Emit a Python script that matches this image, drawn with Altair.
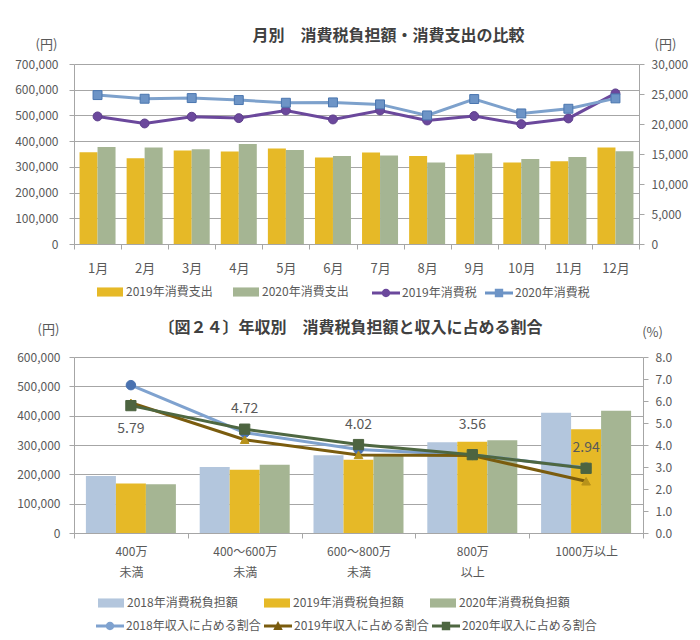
import altair as alt
import pandas as pd

FONT = "Noto Sans CJK JP"
TXT = "#595959"
GRID = "#A6A6A6"

# ---------------- data: monthly ----------------
months = ["1月", "2月", "3月", "4月", "5月", "6月", "7月", "8月", "9月", "10月", "11月", "12月"]
spend_2019 = [357000, 333000, 364000, 360000, 371000, 336000, 356000, 342000, 348000, 317000, 322000, 375000]
spend_2020 = [377000, 375000, 368000, 389000, 366000, 342000, 344000, 317000, 353000, 331000, 338000, 361000]
tax_2019 = [21260, 20090, 21210, 20980, 22260, 20760, 22260, 20590, 21320, 19980, 20930, 25100]
tax_2020 = [24820, 24210, 24320, 23990, 23540, 23600, 23270, 21430, 24160, 21760, 22540, 24270]

top_bar_series = ["2019年消費支出", "2020年消費支出"]
top_line_series = ["2019年消費税", "2020年消費税"]

# ---------------- data: by income ----------------
income_groups = ["400万\n未満", "400～600万\n未満", "600～800万\n未満", "800万\n以上", "1000万以上"]
burden_2018 = [194700, 225400, 265300, 309500, 410000]
burden_2019 = [168500, 215200, 249300, 311000, 353500]
burden_2020 = [166200, 232300, 263000, 316500, 416500]
ratio_2018 = [6.72, 4.56, 3.80, 3.55, 2.97]
ratio_2019 = [5.92, 4.24, 3.55, 3.52, 2.35]
ratio_2020 = [5.79, 4.72, 4.02, 3.56, 2.94]

bot_bar_series = ["2018年消費税負担額", "2019年消費税負担額", "2020年消費税負担額"]
bot_line_series = ["2018年収入に占める割合", "2019年収入に占める割合", "2020年収入に占める割合"]

# ---------------- styles ----------------
YELLOW = "#E6B927"
GREEN = "#A5B593"
LBLUE = "#B3C6DD"
top_bar_colors = [YELLOW, GREEN]
top_bar_shift = [-9, 9]
top_line_colors = ["#6B489C", "#7DA1CC"]
top_marker_fill = ["#6B489C", "#6D94C6"]
top_marker_stroke = ["#5E3F8C", "#4A76AF"]
top_marker_shape = ["circle", "square"]

bot_bar_colors = [LBLUE, YELLOW, GREEN]
bot_bar_shift = [-30, 0, 30]
bot_line_colors = ["#7FA2CF", "#7A5C0E", "#4E6741"]
bot_marker_fill = ["#4A72B0", "#B8921A", "#4D6440"]
bot_marker_shape = ["circle", "triangle-up", "square"]

BAR_SYM = "M-1,-0.35H1V0.35H-1Z"
LINE = "M-1,-0.11H1V0.11H-1Z "
SYM_CIRCLE = LINE + "M-0.3,0A0.3,0.3 0 1,1 0.3,0A0.3,0.3 0 1,1 -0.3,0Z"
SYM_SQUARE = LINE + "M-0.3,-0.3H0.3V0.3H-0.3Z"
SYM_TRI = LINE + "M0,-0.36L0.34,0.28H-0.34Z"

# ---------------- frames ----------------
df_top_bars = pd.DataFrame({
    "month": months * 2,
    "series": [s for s in top_bar_series for _ in months],
    "value": spend_2019 + spend_2020,
})
df_top_lines = pd.DataFrame({
    "month": months * 2,
    "series": [s for s in top_line_series for _ in months],
    "value": tax_2019 + tax_2020,
})
df_bot_bars = pd.DataFrame({
    "group": income_groups * 3,
    "series": [s for s in bot_bar_series for _ in income_groups],
    "value": burden_2018 + burden_2019 + burden_2020,
})
df_bot_lines = pd.DataFrame({
    "group": income_groups * 3,
    "series": [s for s in bot_line_series for _ in income_groups],
    "value": ratio_2018 + ratio_2019 + ratio_2020,
})


def bar_legend(x, y, pad):
    return alt.Legend(orient="none", legendX=x, legendY=y, direction="horizontal", title=None,
                      symbolType=BAR_SYM, symbolSize=676, symbolStrokeWidth=0,
                      labelFont=FONT, labelFontSize=12, labelColor=TXT, labelOffset=3,
                      columnPadding=pad)


def line_legend(x, y, pad):
    return alt.Legend(orient="none", legendX=x, legendY=y, direction="horizontal", title=None,
                      symbolSize=784, symbolStrokeWidth=0, symbolOpacity=1,
                      labelFont=FONT, labelFontSize=12, labelColor=TXT, labelOffset=2,
                      columnPadding=pad)


def y_axis(values, expr, title, tx, ty, orient, pad, grid):
    return alt.Axis(orient=orient, values=values, labelExpr=expr,
                    title=title, titleAngle=0, titleX=tx, titleY=ty,
                    titleAlign="center", titleBaseline="middle",
                    titleFont=FONT, titleFontSize=13, titleFontWeight="normal",
                    titleColor=TXT, labelFont=FONT, labelFontSize=12,
                    labelColor=TXT, labelPadding=pad, tickSize=5, tickColor=GRID,
                    domainColor=GRID, grid=grid, gridColor=GRID, gridWidth=1.2)


COMMA = "format(datum.value, ',')"
ONEDEC = "format(datum.value, '.1f')"

# ================= TOP CHART =================
W1, H1 = 565, 180
x_top = alt.X("month:N", sort=months, title=None,
              scale=alt.Scale(type="band", paddingInner=0, paddingOuter=0),
              axis=alt.Axis(tickBand="extent", labelAngle=0, labelFont=FONT, labelFontSize=13,
                            labelColor=TXT, labelPadding=13, tickSize=5, tickColor=GRID,
                            domainColor=GRID, grid=False))
y_top_left = alt.Y("value:Q", scale=alt.Scale(domain=[0, 700000], nice=False),
                   axis=y_axis(list(range(0, 700001, 100000)), COMMA, "(円)", -28, -20, "left", 11, True))
y_top_right = alt.Y("value:Q", scale=alt.Scale(domain=[0, 30000], nice=False),
                    axis=y_axis(list(range(0, 30001, 5000)), COMMA, "(円)", 26, -20, "right", 7, False))

top_color = alt.Color("series:N", sort=top_bar_series,
                      scale=alt.Scale(domain=top_bar_series, range=top_bar_colors),
                      legend=bar_legend(23, 215, 20))
top_bars = [
    alt.Chart(df_top_bars).transform_filter(alt.datum.series == s).mark_bar(
        width=18, xOffset=off
    ).encode(x=x_top, y=y_top_left, color=top_color)
    for s, off in zip(top_bar_series, top_bar_shift)
]

top_line = alt.Chart(df_top_lines).mark_line(strokeWidth=3).encode(
    x=x_top, y=y_top_right,
    color=alt.Color("series:N", sort=top_line_series,
                    scale=alt.Scale(domain=top_line_series, range=top_line_colors), legend=None),
)
top_markers = [
    alt.Chart(df_top_lines).transform_filter(alt.datum.series == s).mark_point(
        shape=shp, filled=True, fill=f, stroke=st, strokeWidth=1, size=80, opacity=1
    ).encode(x=x_top, y=y_top_right)
    for s, shp, f, st in zip(top_line_series, top_marker_shape, top_marker_fill, top_marker_stroke)
]
top_leg = alt.Chart(df_top_lines).mark_point(filled=True, opacity=0).encode(
    x=x_top, y=y_top_right,
    color=alt.Color("series:N", sort=top_line_series,
                    scale=alt.Scale(domain=top_line_series, range=top_marker_fill),
                    legend=line_legend(298, 215, 8)),
    shape=alt.Shape("series:N", sort=top_line_series,
                    scale=alt.Scale(domain=top_line_series, range=[SYM_CIRCLE, SYM_SQUARE]),
                    legend=line_legend(298, 215, 8)),
)
top_inner = alt.layer(top_line, *top_markers, top_leg).resolve_scale(
    color="independent", shape="independent")
top_chart = alt.layer(alt.layer(*top_bars), top_inner).resolve_scale(
    y="independent", color="independent", shape="independent"
).properties(
    width=W1, height=H1,
    title=alt.TitleParams("月別　消費税負担額・消費支出の比較", font=FONT, fontSize=16,
                          fontWeight="bold", color="#404040", anchor="middle", frame="group",
                          dx=32, offset=-6),
)

# ================= BOTTOM CHART =================
W2, H2 = 569, 176
x_bot = alt.X("group:N", sort=income_groups, title=None,
              scale=alt.Scale(type="band", paddingInner=0, paddingOuter=0),
              axis=alt.Axis(tickBand="extent", labelAngle=0, labelFont=FONT, labelFontSize=12,
                            labelColor=TXT, labelPadding=8, labelBaseline="top",
                            labelExpr="split(datum.label, '\\n')", labelLineHeight=21,
                            tickSize=5, tickColor=GRID, domainColor=GRID, grid=False))
y_bot_left = alt.Y("value:Q", scale=alt.Scale(domain=[0, 600000], nice=False),
                   axis=y_axis(list(range(0, 600001, 100000)), COMMA, "(円)", -26, -28, "left", 9, True))
y_bot_right = alt.Y("value:Q", scale=alt.Scale(domain=[0, 8], nice=False),
                    axis=y_axis([0, 1, 2, 3, 4, 5, 6, 7, 8], ONEDEC, "(%)", 9, -25, "right", 7, False))

bot_color = alt.Color("series:N", sort=bot_bar_series,
                      scale=alt.Scale(domain=bot_bar_series, range=bot_bar_colors),
                      legend=bar_legend(24, 233, 26))
bot_bars = [
    alt.Chart(df_bot_bars).transform_filter(alt.datum.series == s).mark_bar(
        width=30, xOffset=off
    ).encode(x=x_bot, y=y_bot_left, color=bot_color)
    for s, off in zip(bot_bar_series, bot_bar_shift)
]
bot_line = alt.Chart(df_bot_lines).mark_line(strokeWidth=3).encode(
    x=x_bot, y=y_bot_right,
    color=alt.Color("series:N", sort=bot_line_series,
                    scale=alt.Scale(domain=bot_line_series, range=bot_line_colors), legend=None),
)
bot_markers = [
    alt.Chart(df_bot_lines).transform_filter(alt.datum.series == s).mark_point(
        shape=shp, filled=True, fill=f, stroke=f, strokeWidth=1, size=sz, opacity=1
    ).encode(x=x_bot, y=y_bot_right)
    for s, shp, f, sz in zip(bot_line_series, bot_marker_shape, bot_marker_fill, [90, 75, 105])
]
lab_base = alt.Chart(df_bot_lines).transform_filter(alt.datum.series == bot_line_series[2])
lab_kw = dict(font=FONT, fontSize=14, color=TXT)
lab_below = lab_base.transform_filter(
    alt.FieldOneOfPredicate(field="group", oneOf=[income_groups[0]])
).mark_text(dy=23, **lab_kw).encode(x=x_bot, y=y_bot_right, text=alt.Text("value:Q", format=".2f"))
lab_high = lab_base.transform_filter(
    alt.FieldOneOfPredicate(field="group", oneOf=[income_groups[3]])
).mark_text(dy=-30, **lab_kw).encode(x=x_bot, y=y_bot_right, text=alt.Text("value:Q", format=".2f"))
lab_above = lab_base.transform_filter(
    alt.FieldOneOfPredicate(field="group", oneOf=[income_groups[1], income_groups[2], income_groups[4]])
).mark_text(dy=-20, **lab_kw).encode(x=x_bot, y=y_bot_right, text=alt.Text("value:Q", format=".2f"))

bot_leg = alt.Chart(df_bot_lines).mark_point(filled=True, opacity=0).encode(
    x=x_bot, y=y_bot_right,
    color=alt.Color("series:N", sort=bot_line_series,
                    scale=alt.Scale(domain=bot_line_series, range=bot_line_colors),
                    legend=line_legend(22, 255, 3)),
    shape=alt.Shape("series:N", sort=bot_line_series,
                    scale=alt.Scale(domain=bot_line_series, range=[SYM_CIRCLE, SYM_TRI, SYM_SQUARE]),
                    legend=line_legend(22, 255, 3)),
)
bot_inner = alt.layer(bot_line, *bot_markers, lab_below, lab_high, lab_above, bot_leg).resolve_scale(
    color="independent", shape="independent")
bot_chart = alt.layer(alt.layer(*bot_bars), bot_inner).resolve_scale(
    y="independent", color="independent", shape="independent"
).properties(
    width=W2, height=H2,
    title=alt.TitleParams("〔図２４〕年収別　消費税負担額と収入に占める割合", font=FONT, fontSize=16,
                          fontWeight="bold", color="#404040", anchor="middle", frame="group",
                          dx=-8, offset=-13),
)

chart = alt.vconcat(top_chart, bot_chart, spacing=113, bounds="flush").properties(
    padding={"left": 14, "top": 28, "right": 5, "bottom": 5}
).configure_view(stroke=None)

chart.save("out.html", embed_options={"renderer": "svg", "actions": False})
